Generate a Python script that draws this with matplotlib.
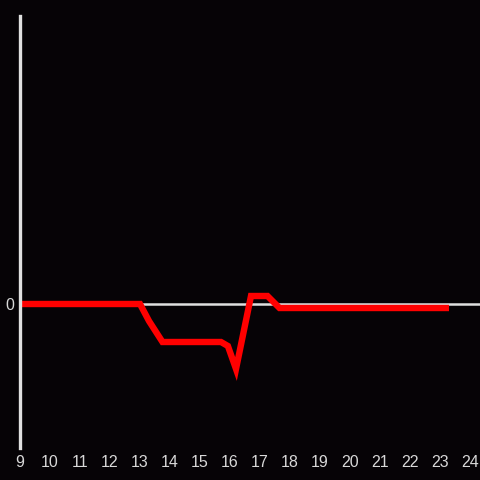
import matplotlib
matplotlib.use("Agg")
import matplotlib.pyplot as plt

hours = [9, 13.0, 13.3, 13.75, 15.7, 15.93, 16.2, 16.7, 17.25, 17.65, 23.3]
values = [0, 0, -1.7, -3.8, -3.8, -4.2, -6.5, 0.8, 0.8, -0.4, -0.4]
xticks = list(range(9, 25))

bg = '#060306'
axc = '#e0e0e0'
plt.rcParams['font.family'] = ['Liberation Sans', 'DejaVu Sans']

fig = plt.figure(figsize=(4.8, 4.8), dpi=100, facecolor=bg)
ax = fig.add_axes([20/480, 32/480, 460/480, 432/480])
ax.set_facecolor(bg)

ax.set_xlim(9, 9 + 460/30)
ax.set_ylim(-14.4, 28.8)

ax.axhline(0, color=axc, lw=1.8, zorder=1)
ax.plot(hours, values, color='#ff0000', lw=4.6, solid_capstyle='butt',
        solid_joinstyle='miter', zorder=2)

for s in ['top', 'right', 'bottom']:
    ax.spines[s].set_visible(False)
ax.spines['left'].set_color(axc)
ax.spines['left'].set_linewidth(2.4)
ax.spines['left'].set_zorder(3)

ax.set_xticks(xticks)
ax.set_xticklabels([str(t) for t in xticks])
ax.set_yticks([0])
ax.set_yticklabels(['0'])
ax.tick_params(axis='both', length=0, colors='#d8d8d8', labelsize=11.5)
ax.tick_params(axis='x', pad=5)
ax.tick_params(axis='y', pad=4)

fig.savefig('out.png', dpi=100, facecolor=bg)
